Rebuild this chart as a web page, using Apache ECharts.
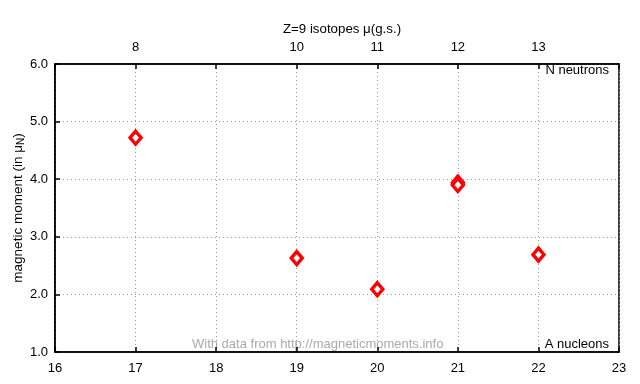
<!DOCTYPE html>
<html><head><meta charset="utf-8">
<script src="https://cdn.jsdelivr.net/npm/echarts@6/dist/echarts.min.js"></script>
<style>html,body{margin:0;padding:0;background:#fff}#c{width:640px;height:384px}</style>
</head><body><div id="c"></div>
<script>
// Data
const nucleonsA = [17, 19, 20, 21, 21, 22];
const moments = [4.72, 2.63, 2.09, 3.94, 3.90, 2.69];
const topTickA = [17, 19, 20, 21, 22];
const topTickLabels = ['8', '10', '11', '12', '13'];
const titleText = 'Z=9 isotopes \u03bc(g.s.)';
const FONT = 'Liberation Sans';

const chart = echarts.init(document.getElementById('c'), null, {renderer: 'canvas'});
const gridLeft = 55, gridRight = 21, gridTop = 64, gridBottom = 32;
chart.setOption({
  animation: false,
  textStyle: {fontFamily: FONT},
  title: {text: titleText, left: 337, top: 18, textAlign: 'center',
    textStyle: {fontFamily: FONT, fontSize: 13.3, fontWeight: 'normal', color: '#000'}},
  grid: {left: gridLeft, right: gridRight, top: gridTop, bottom: gridBottom,
    outerBoundsMode: 'none', containLabel: false,
    show: true, borderColor: '#000', borderWidth: 1.5, backgroundColor: '#fff'},
  xAxis: [{
    type: 'value', min: 16, max: 23, interval: 1, position: 'bottom',
    axisLine: {lineStyle: {color: '#000', width: 1.5}},
    axisTick: {inside: true, length: 5, lineStyle: {color: '#000', width: 1.5}},
    axisLabel: {color: '#000', fontSize: 13, margin: 10, fontFamily: FONT},
    splitLine: {show: true, lineStyle: {color: '#999', type: [1, 3], width: 1}}
  }, {
    type: 'value', min: 16, max: 23, interval: 1, position: 'top',
    axisLine: {lineStyle: {color: '#000', width: 1.5}},
    axisTick: {inside: true, length: 5, lineStyle: {color: '#000', width: 1.5}},
    axisLabel: {color: '#000', fontSize: 13, margin: 10, fontFamily: FONT,
      formatter: v => { const i = topTickA.indexOf(v); return i >= 0 ? topTickLabels[i] : ''; }},
    splitLine: {show: false}
  }],
  yAxis: {
    type: 'value', min: 1, max: 6, interval: 1,
    name: 'magnetic moment (in \u03bc{sub|N})', nameLocation: 'middle', nameGap: 29, nameRotate: 90,
    nameMoveOverlap: false,
    nameTextStyle: {color: '#000', fontSize: 13.5, fontFamily: FONT,
      rich: {sub: {fontSize: 10, verticalAlign: 'bottom', padding: [6, 0, 0, 0], color: '#000', fontFamily: FONT}}},
    axisLine: {show: true, lineStyle: {color: '#000', width: 1.5}},
    axisTick: {inside: true, length: 5, lineStyle: {color: '#000', width: 1.5}},
    axisLabel: {color: '#000', fontSize: 13, margin: 7, fontFamily: FONT, formatter: v => v.toFixed(1)},
    splitLine: {show: true, lineStyle: {color: '#999', type: [1, 3], width: 1}}
  },
  graphic: [
    {type: 'text', right: 31, top: 64, style: {text: 'N neutrons', fontSize: 13, fontFamily: FONT, fill: '#000'}},
    {type: 'text', right: 31, top: 338, style: {text: 'A nucleons', fontSize: 13, fontFamily: FONT, fill: '#000'}},
    {type: 'text', left: 192, top: 338, style: {text: 'With data from http://magneticmoments.info', fontSize: 13, fontFamily: FONT, fill: '#aaa'}}
  ],
  series: [{
    type: 'scatter', xAxisIndex: 0,
    data: nucleonsA.map((a, i) => [a, moments[i]]),
    symbol: 'diamond', symbolSize: [11, 13],
    itemStyle: {color: '#fff', borderColor: '#ff0000', borderWidth: 3.4, opacity: 1}
  }]
});
</script></body></html>
